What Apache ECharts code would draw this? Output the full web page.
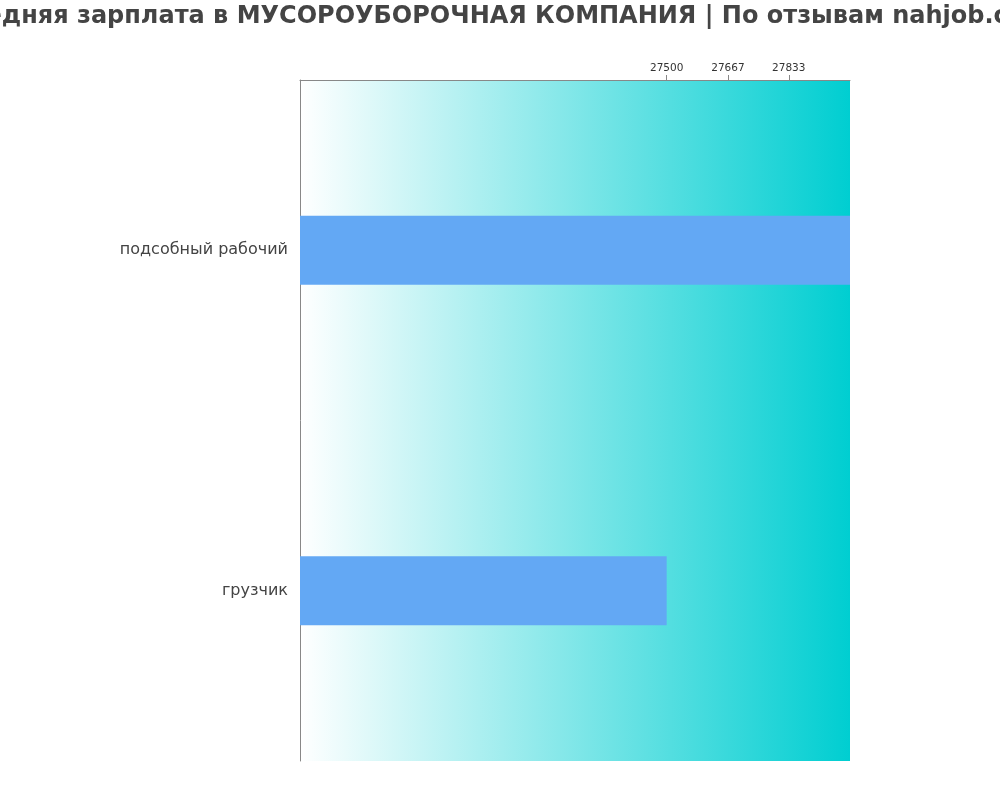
<!DOCTYPE html>
<html>
<head>
<meta charset="utf-8">
<script src="https://cdn.jsdelivr.net/npm/echarts@6/dist/echarts.min.js"></script>
<style>html,body{margin:0;padding:0;background:#fff}#c{width:1000px;height:800px}</style>
</head>
<body>
<div id="c"></div>
<script>
var titleText = 'Средняя зарплата в МУСОРОУБОРОЧНАЯ КОМПАНИЯ | По отзывам nahjob.com';
var categories = ['подсобный рабочий', 'грузчик'];
var salaries = [28000, 27500];
var tickValues = [27500, 27667, 27833];

var chart = echarts.init(document.getElementById('c'));
chart.setOption({
  animation: false,
  title: {
    text: titleText,
    left: 'center',
    top: 0,
    textStyle: { fontFamily: 'DejaVu Sans', fontWeight: 'bold', fontSize: 24, color: '#444' }
  },
  grid: {
    left: 300, right: 150, top: 80, bottom: 39,
    show: true,
    borderWidth: 0,
    backgroundColor: new echarts.graphic.LinearGradient(0, 0, 1, 0, [
      { offset: 0, color: '#ffffff' },
      { offset: 1, color: '#00ced1' }
    ])
  },
  xAxis: {
    type: 'value',
    position: 'top',
    min: 26500,
    max: 28000,
    splitLine: { show: false },
    axisLine: { show: true, lineStyle: { color: '#888' } },
    axisTick: { show: true, customValues: tickValues, length: 5, lineStyle: { color: '#888' } },
    axisLabel: {
      customValues: tickValues,
      fontFamily: 'DejaVu Sans',
      fontSize: 10.5,
      color: '#333',
      margin: 6,
      formatter: function (v) { return String(Math.round(v)); }
    }
  },
  yAxis: {
    type: 'category',
    inverse: true,
    data: categories,
    axisLine: { show: true, lineStyle: { color: '#888' } },
    axisTick: { show: false },
    axisLabel: { fontFamily: 'DejaVu Sans', fontSize: 16, color: '#444', margin: 12, padding: [0, 0, 6, 0] }
  },
  series: [{
    type: 'bar',
    data: salaries,
    barWidth: 69,
    itemStyle: { color: '#63a8f4' }
  }]
});
</script>
</body>
</html>
